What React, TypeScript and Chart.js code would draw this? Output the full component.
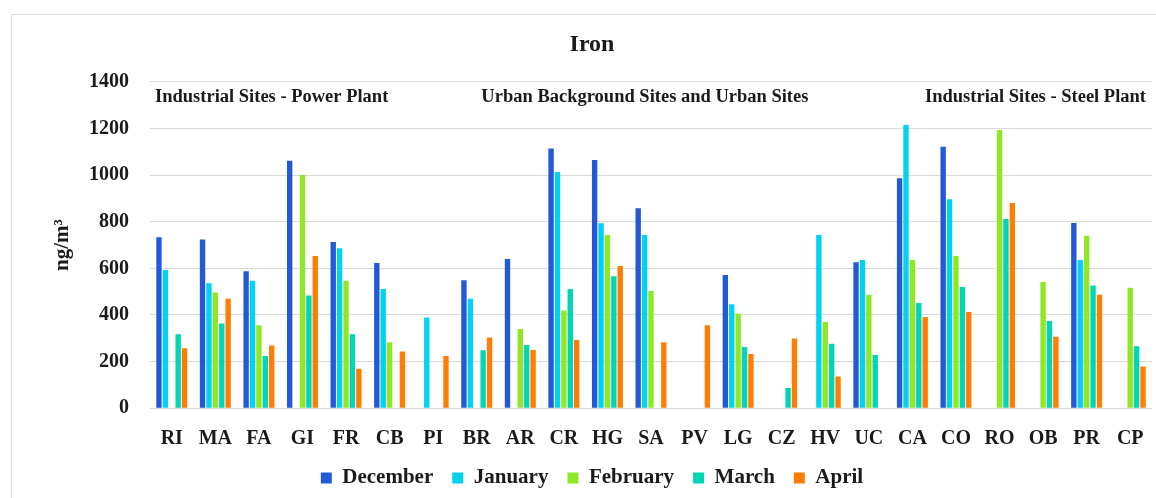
import React, { useEffect, useRef } from "react";
import { Chart, registerables } from "chart.js";

Chart.register(...registerables);

const categories = ["RI","MA","FA","GI","FR","CB","PI","BR","AR","CR","HG","SA","PV","LG","CZ","HV","UC","CA","CO","RO","OB","PR","CP"];
const december = [733,724,587,1061,713,623,null,549,640,1114,1064,857,null,571,null,null,626,986,1121,null,null,794,null];
const january = [593,536,547,null,686,511,389,470,null,1013,793,743,null,446,null,743,636,1214,896,null,null,636,null];
const february = [null,496,356,1000,547,283,null,null,340,419,743,503,null,406,null,370,487,636,653,1193,541,740,517];
const march = [317,364,224,484,317,null,null,249,271,511,566,null,null,263,87,277,229,451,520,811,374,526,266];
const april = [257,470,269,653,169,244,224,303,250,293,610,283,356,233,299,136,null,391,413,880,307,487,179];
const yTicks = [0,200,400,600,800,1000,1200,1400];
const groupLabels = ["Industrial Sites - Power Plant","Urban Background Sites and Urban Sites","Industrial Sites - Steel Plant"];

const FONT = "'Liberation Serif', 'Times New Roman', serif";
const TEXT = "#1a1a1a";

const groupLabelPlugin = {
  id: "groupLabels",
  afterDatasetsDraw(chart: any) {
    const { ctx, chartArea, scales } = chart;
    const y = scales.y.getPixelForValue(1335);
    ctx.save();
    ctx.font = `bold 18.5px ${FONT}`;
    ctx.fillStyle = TEXT;
    ctx.textBaseline = "middle";
    ctx.textAlign = "left";
    ctx.fillText(groupLabels[0], chartArea.left + 5, y);
    ctx.textAlign = "center";
    ctx.fillText(groupLabels[1], scales.x.getPixelForValue(10.86), y);
    ctx.textAlign = "right";
    ctx.fillText(groupLabels[2], chartArea.right - 6, y);
    ctx.restore();
  },
};

export default function App() {
  const ref = useRef<HTMLCanvasElement | null>(null);
  useEffect(() => {
    if (!ref.current) return;
    const mk = (label: string, data: (number | null)[], color: string) => ({
      label,
      data,
      backgroundColor: color,
      borderWidth: 0,
      barPercentage: 0.84,
      categoryPercentage: 0.735,
    });
    const chart = new Chart(ref.current, {
      type: "bar",
      data: {
        labels: categories,
        datasets: [
          mk("December", december, "#2359d6"),
          mk("January", january, "#00d2f0"),
          mk("February", february, "#8ee824"),
          mk("March", march, "#00d6b4"),
          mk("April", april, "#ff7d05"),
        ],
      },
      options: {
        responsive: false,
        animation: false,
        layout: { padding: { left: 20, right: 16, top: 0, bottom: 0.5 } },
        plugins: {
          title: {
            display: true,
            text: "Iron",
            color: TEXT,
            font: { family: FONT, size: 24, weight: "bold" },
            padding: { top: 15.6, bottom: 22.3 },
          },
          legend: {
            position: "bottom",
            labels: {
              color: TEXT,
              font: { family: FONT, size: 21, weight: "bold" },
              boxWidth: 11,
              boxHeight: 11,
              padding: 19,
            },
          },
          tooltip: { enabled: false },
        },
        scales: {
          x: {
            grid: { display: false, drawTicks: false },
            border: { display: false },
            ticks: {
              color: TEXT,
              font: { family: FONT, size: 20, weight: "bold" },
              padding: 18.5,
              maxRotation: 0,
              autoSkip: false,
            },
            afterFit(scale: any) {
              scale.height = 40.2;
            },
          },
          y: {
            min: 0,
            max: 1400,
            afterBuildTicks(scale: any) {
              scale.ticks = yTicks.map((v) => ({ value: v }));
            },
            grid: { color: "#d9d9d9", lineWidth: 1, drawTicks: false },
            border: { display: false },
            ticks: {
              color: TEXT,
              font: { family: FONT, size: 20, weight: "bold" },
              padding: 21,
              callback: (v: any) => String(v),
            },
            title: {
              display: true,
              text: "ng/m³",
              color: TEXT,
              font: { family: FONT, size: 21, weight: "bold" },
              padding: { top: 17.5, bottom: 0 },
            },
            afterFit(scale: any) {
              scale.width = 118;
            },
          },
        },
      },
      plugins: [groupLabelPlugin],
    });
    return () => chart.destroy();
  }, []);

  return (
    <div style={{ position: "absolute", left: 0, top: 0, width: 1156, height: 498, overflow: "hidden", background: "#fff" }}>
      <div style={{ position: "absolute", left: 11, top: 14, width: 1200, height: 600, border: "1px solid #d9d9d9" }}>
        <canvas ref={ref} width={1156} height={484} style={{ display: "block", width: 1156, height: 484 }} />
      </div>
    </div>
  );
}
